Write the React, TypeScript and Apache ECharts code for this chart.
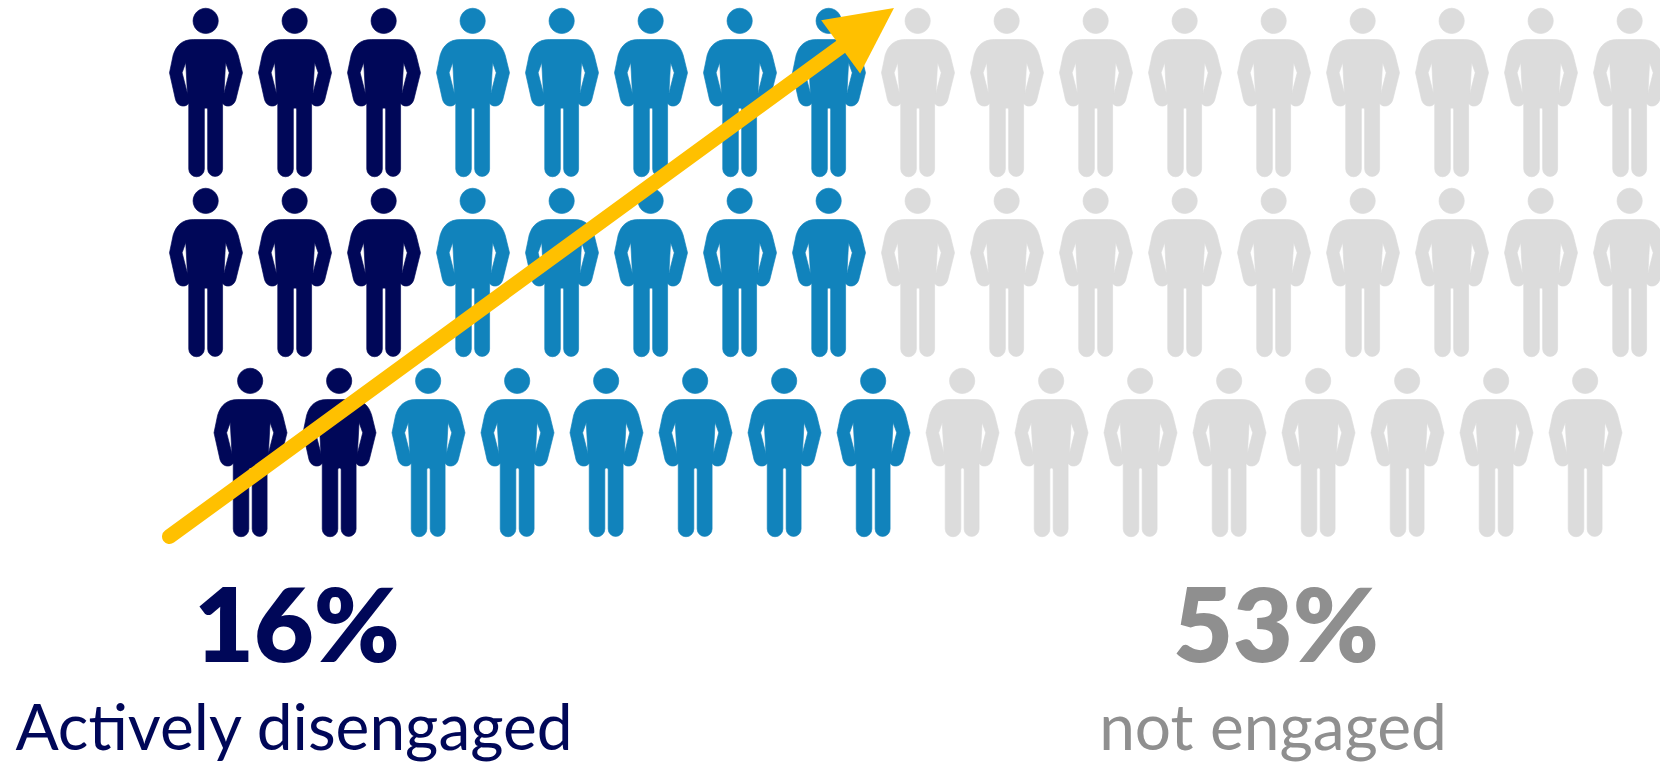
import React, { useEffect, useRef } from "react";
import * as echarts from "echarts";

// People per row of the pictogram, split by engagement group.
const rowOffsets = [0, 0, 0.5];
const activelyDisengagedPerRow = [3, 3, 2];
const engagedPerRow = [5, 5, 6];
const notEngagedPerRow = [9, 9, 8];

// Trend arrow, in column/row units: tail column, tail row, tip column, tip row.
const trendArrow = [[-0.41, 2.467, 7.73, -0.47]];

const PERSON =
  "path://M167 24 A38 38 0 1 1 166.9 24 Z " +
  "M130 118 L205 118 C238 118 256 136 265 165 L278 218 L258 298 C254 312 244 318 234 318 C228 318 222 315 218 310 " +
  "L218 507 A22.5 22.5 0 0 1 173 507 L173 330 C173 322 163 322 163 330 L163 507 A23.5 23.5 0 0 1 116 507 " +
  "L116 310 C112 315 106 318 100 318 C90 318 80 312 76 298 L58 218 L69 165 C78 136 96 118 130 118 Z " +
  "M227 187 L222 280 L238 218 Z M107 187 L96 218 L112 280 Z";

const NAVY = "#000758";
const BLUE = "#1183BC";
const LIGHT = "#DCDCDC";
const GREY = "#8F8F8F";
const YELLOW = "#FFC000";

function seatPeople(skip: number[], counts: number[]) {
  const points: number[][] = [];
  counts.forEach((n, row) => {
    for (let i = 0; i < n; i++) points.push([skip[row] + i + rowOffsets[row], row]);
  });
  return points;
}

function peopleSeries(name: string, color: string, skip: number[], counts: number[]) {
  return {
    name,
    type: "scatter",
    symbol: PERSON,
    symbolSize: [73, 168.5],
    clip: false,
    silent: true,
    itemStyle: { color, opacity: 1, borderColor: color, borderWidth: 0.6 },
    data: seatPeople(skip, counts),
  };
}

function renderArrow(_: any, api: any) {
  const tail = api.coord([api.value(0), api.value(1)]);
  const tip = api.coord([api.value(2), api.value(3)]);
  const dx = tip[0] - tail[0];
  const dy = tip[1] - tail[1];
  const len = Math.hypot(dx, dy);
  const ux = dx / len;
  const uy = dy / len;
  const headLen = 66;
  const headHalf = 33;
  const bx = tip[0] - ux * headLen;
  const by = tip[1] - uy * headLen;
  return {
    type: "group",
    children: [
      {
        type: "line",
        shape: { x1: tail[0], y1: tail[1], x2: bx + ux * 4, y2: by + uy * 4 },
        style: { stroke: YELLOW, lineWidth: 15, lineCap: "round", fill: null },
      },
      {
        type: "polygon",
        shape: {
          points: [
            [tip[0], tip[1]],
            [bx - uy * headHalf, by + ux * headHalf],
            [bx + uy * headHalf, by - ux * headHalf],
          ],
        },
        style: { fill: YELLOW },
      },
    ],
  };
}

function caption(text: string, x: number, y: number, font: string, fill: string) {
  return {
    type: "text",
    x,
    y,
    style: { text, font, fill, textAlign: "center", textVerticalAlign: "middle" },
  };
}

export default function App() {
  const ref = useRef<HTMLDivElement>(null);

  useEffect(() => {
    document.body.style.margin = "0";
    const chart = echarts.init(ref.current!, null, { renderer: "svg" });
    chart.setOption({
      animation: false,
      backgroundColor: "#fff",
      grid: { left: 206, top: 92.5, width: 1424, height: 360 },
      xAxis: { type: "value", min: 0, max: 16, show: false },
      yAxis: { type: "value", min: 0, max: 2, inverse: true, show: false },
      series: [
        peopleSeries("Actively disengaged", NAVY, [0, 0, 0], activelyDisengagedPerRow),
        peopleSeries("Engaged", BLUE, activelyDisengagedPerRow, engagedPerRow),
        peopleSeries(
          "Not engaged",
          LIGHT,
          activelyDisengagedPerRow.map((n, i) => n + engagedPerRow[i]),
          notEngagedPerRow,
        ),
        {
          type: "custom",
          silent: true,
          clip: false,
          z: 5,
          renderItem: renderArrow,
          encode: { x: [0, 2], y: [1, 3] },
          data: trendArrow,
        },
      ],
      graphic: [
        caption("16%", 297, 622, "800 103px Lato", NAVY),
        caption("Actively disengaged", 294, 725, "400 64px Lato", NAVY),
        caption("53%", 1276, 622, "800 103px Lato", GREY),
        caption("not engaged", 1273, 725, "400 64px Lato", GREY),
      ],
    });
    return () => chart.dispose();
  }, []);

  return <div ref={ref} style={{ width: 1660, height: 762 }} />;
}
